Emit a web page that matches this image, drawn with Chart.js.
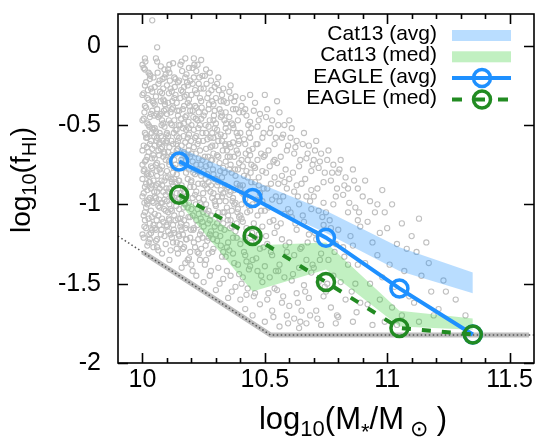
<!DOCTYPE html>
<html>
<head>
<meta charset="utf-8">
<script src="https://cdn.jsdelivr.net/npm/chart.js@4.4.0/dist/chart.umd.min.js"></script>
<style>
  html, body { margin: 0; padding: 0; background: #fff; }
  canvas { display: block; }
</style>
</head>
<body>
<canvas id="grafik" width="546" height="441"></canvas>
<script>
// bins of stellar mass, log10(M*/Msun)
const massBins = [10.15, 10.45, 10.75, 11.05, 11.35];

// EAGLE
const eagleAvg = [-0.73, -0.96, -1.21, -1.53, -1.82];
const eagleMed = [-0.94, -1.20, -1.49, -1.78, -1.82];

// Catinella et al. 2013 bands
const cat13AvgHi = [-0.64, -0.85, -1.04, -1.27, -1.43];
const cat13AvgLo = [-0.76, -0.97, -1.18, -1.42, -1.56];
const cat13MedHi = [-0.94, -1.26, -1.24, -1.67, -1.72];
const cat13MedLo = [-0.99, -1.55, -1.41, -1.77, -1.79];

// detection limit (dotted) and the pile of galaxies sitting on it
const limitX = [9.9, 10.524, 11.6];
const limitY = [-1.2, -1.824, -1.824];
const floorX = [10.0, 10.524, 11.58];
const floorY = [-1.3, -1.824, -1.824];

const seriesNames = ["Cat13 (avg)", "Cat13 (med)", "EAGLE (avg)", "EAGLE (med)"];

const xTickLabels = [10, 10.5, 11, 11.5];
const yTickLabels = [0, -0.5, -1, -1.5, -2];

// individual EAGLE galaxies (grey cloud)
const galaxies = [
  [10.04,0.16],[10.06,-0.01],[10.01,-0.08],
  [10.00,-0.12],[10.01,-0.25],[10.03,-0.18],[10.02,-0.33],[10.04,-0.41],[10.00,-0.47],[10.01,-0.55],[10.03,-0.62],[10.02,-0.70],[10.04,-0.77],
  [10.00,-0.84],[10.02,-0.91],[10.04,-0.98],[10.01,-1.05],[10.03,-1.12],[10.00,-1.19],[10.02,-1.26],[10.04,-0.52],[10.01,-0.38],[10.03,-0.86],
  [10.00,-0.66],[10.02,-1.00],[10.04,-0.29],[10.01,-0.73],[10.03,-0.45],[10.00,-0.95],[10.02,-0.58],[10.04,-1.16],[10.01,-0.89],[10.03,-0.21],
  [10.00,-0.31],[10.02,-0.80],[10.04,-0.65],[10.01,-1.10],[10.03,-0.96],[10.00,-0.75],[10.02,-0.49],[10.04,-0.88],[10.01,-0.15],[10.03,-1.22],
  [10.06,-0.10],[10.07,-0.22],[10.09,-0.15],[10.08,-0.30],[10.05,-0.37],[10.07,-0.44],[10.09,-0.51],[10.06,-0.58],[10.08,-0.64],[10.05,-0.71],
  [10.07,-0.78],[10.09,-0.85],[10.06,-0.92],[10.08,-0.99],[10.05,-1.06],[10.07,-1.13],[10.09,-1.20],[10.06,-1.27],[10.08,-1.31],[10.05,-0.26],
  [10.07,-0.55],[10.09,-0.68],[10.06,-0.82],[10.08,-0.47],[10.05,-0.95],[10.07,-1.02],[10.09,-0.35],[10.06,-0.74],[10.08,-0.88],[10.05,-1.15],
  [10.07,-0.61],[10.09,-0.97],[10.06,-0.40],[10.08,-1.09],[10.05,-0.52],[10.07,-0.90],[10.09,-0.20],[10.06,-1.22],[10.08,-0.76],[10.05,-0.63],
  [10.11,-0.12],[10.13,-0.20],[10.12,-0.29],[10.14,-0.36],[10.10,-0.43],[10.12,-0.50],[10.14,-0.57],[10.11,-0.64],[10.13,-0.72],[10.10,-0.79],
  [10.12,-0.86],[10.14,-0.93],[10.11,-1.00],[10.13,-1.07],[10.10,-1.14],[10.12,-1.21],[10.14,-1.28],[10.11,-1.35],[10.13,-0.47],[10.10,-0.60],
  [10.12,-0.69],[10.14,-0.81],[10.11,-0.90],[10.13,-0.33],[10.10,-0.98],[10.12,-1.04],[10.14,-0.53],[10.11,-0.75],[10.13,-1.18],[10.10,-0.25],
  [10.12,-0.40],[10.14,-0.66],[10.11,-1.10],[10.13,-0.84],[10.10,-0.55],[10.12,-0.95],[10.14,-1.24],[10.11,-0.17],
  [10.16,-0.10],[10.18,-0.18],[10.17,-0.26],[10.19,-0.34],[10.15,-0.41],[10.17,-0.49],[10.19,-0.56],[10.16,-0.63],[10.18,-0.70],[10.15,-0.85],
  [10.17,-0.92],[10.19,-0.99],[10.16,-1.06],[10.18,-1.13],[10.15,-1.20],[10.17,-1.27],[10.19,-1.34],[10.16,-1.40],[10.18,-0.44],[10.15,-0.58],
  [10.17,-0.67],[10.19,-0.78],[10.16,-0.88],[10.18,-0.31],[10.15,-1.03],[10.17,-1.10],[10.19,-0.52],[10.16,-0.74],[10.18,-1.22],[10.15,-0.22],
  [10.17,-0.38],[10.19,-0.63],[10.16,-1.16],[10.18,-0.95],[10.15,-0.96],[10.19,-0.14],
  [10.21,-0.08],[10.22,-0.16],[10.24,-0.09],[10.23,-0.24],[10.20,-0.31],[10.22,-0.39],[10.24,-0.46],[10.21,-0.53],[10.23,-0.60],[10.20,-0.68],
  [10.22,-0.75],[10.24,-0.82],[10.21,-0.89],[10.23,-0.96],[10.20,-1.03],[10.22,-1.10],[10.24,-1.17],[10.21,-1.24],[10.23,-1.31],[10.20,-1.38],
  [10.22,-1.45],[10.24,-0.35],[10.21,-0.64],[10.23,-0.71],[10.20,-0.50],[10.22,-0.92],[10.24,-1.00],[10.21,-1.15],[10.23,-0.42],[10.20,-0.85],
  [10.22,-0.57],[10.24,-1.28],[10.21,-0.20],[10.23,-1.06],
  [10.26,-0.15],[10.28,-0.22],[10.27,-0.30],[10.29,-0.37],[10.25,-0.44],[10.27,-0.51],[10.29,-0.58],[10.26,-0.65],[10.28,-0.72],[10.25,-0.79],
  [10.27,-0.86],[10.29,-0.93],[10.26,-1.00],[10.28,-1.07],[10.25,-1.14],[10.27,-1.21],[10.29,-1.28],[10.26,-1.35],[10.28,-1.42],[10.25,-1.49],
  [10.27,-0.40],[10.29,-0.68],[10.26,-0.55],[10.28,-0.88],[10.25,-0.97],[10.27,-1.04],[10.29,-0.47],[10.26,-0.76],[10.28,-1.17],[10.25,-0.27],
  [10.27,-1.31],[10.29,-0.81],
  [10.31,-0.20],[10.33,-0.27],[10.32,-0.35],[10.34,-0.42],[10.30,-0.49],[10.32,-0.56],[10.34,-0.63],[10.31,-0.70],[10.33,-0.77],[10.30,-0.84],
  [10.32,-0.91],[10.34,-0.98],[10.31,-1.05],[10.33,-1.12],[10.30,-1.19],[10.32,-1.26],[10.34,-1.33],[10.31,-1.40],[10.33,-1.47],[10.30,-1.54],
  [10.32,-0.45],[10.34,-0.73],[10.31,-0.60],[10.33,-0.93],[10.30,-1.01],[10.32,-1.15],[10.34,-0.52],[10.31,-0.86],[10.33,-1.30],[10.30,-0.33],
  [10.36,-0.25],[10.38,-0.32],[10.37,-0.40],[10.39,-0.47],[10.35,-0.54],[10.37,-0.61],[10.39,-0.68],[10.36,-0.75],[10.38,-0.82],[10.35,-0.89],
  [10.37,-0.96],[10.39,-1.03],[10.36,-1.10],[10.38,-1.17],[10.35,-1.24],[10.37,-1.31],[10.39,-1.38],[10.36,-1.45],[10.38,-1.52],[10.35,-1.59],
  [10.37,-0.50],[10.39,-0.78],[10.36,-0.64],[10.38,-0.99],[10.35,-1.07],[10.37,-1.21],[10.39,-0.57],[10.36,-0.92],
  [10.41,-0.33],[10.44,-0.31],[10.42,-0.40],[10.44,-0.48],[10.40,-0.55],[10.42,-0.62],[10.44,-0.69],[10.41,-0.76],[10.43,-0.83],[10.40,-0.90],
  [10.42,-0.97],[10.44,-1.04],[10.41,-1.11],[10.43,-1.18],[10.40,-1.25],[10.42,-1.32],[10.44,-1.39],[10.41,-1.46],[10.43,-1.53],[10.40,-1.60],
  [10.42,-1.66],[10.44,-0.58],[10.41,-0.88],[10.43,-0.72],[10.40,-1.07],[10.42,-1.22],
  [10.46,-0.36],[10.48,-0.43],[10.47,-0.51],[10.49,-0.58],[10.45,-0.65],[10.47,-0.72],[10.49,-0.79],[10.46,-0.86],[10.48,-0.93],[10.45,-1.00],
  [10.47,-1.07],[10.49,-1.14],[10.46,-1.21],[10.48,-1.28],[10.45,-1.35],[10.47,-1.42],[10.49,-1.49],[10.46,-1.56],[10.48,-1.63],[10.45,-1.70],
  [10.50,-0.31],[10.47,-0.62],[10.49,-0.98],[10.46,-0.77],
  [10.51,-0.40],[10.53,-0.47],[10.55,-0.35],[10.52,-0.55],[10.54,-0.62],[10.50,-0.69],[10.52,-0.76],[10.54,-0.83],[10.51,-0.90],[10.53,-0.97],
  [10.50,-1.04],[10.52,-1.11],[10.54,-1.18],[10.51,-1.25],[10.53,-1.32],[10.50,-1.39],[10.52,-1.46],[10.54,-1.53],[10.51,-1.60],[10.53,-1.67],
  [10.50,-1.74],[10.54,-0.72],
  [10.56,-0.42],[10.58,-0.50],[10.57,-0.58],[10.59,-0.66],[10.55,-0.74],[10.57,-0.82],[10.59,-0.90],[10.56,-0.98],[10.58,-1.06],[10.55,-1.14],
  [10.57,-1.22],[10.59,-1.30],[10.56,-1.38],[10.58,-1.46],[10.55,-1.54],[10.57,-1.62],[10.59,-1.70],[10.56,-1.77],[10.58,-0.86],[10.60,-0.47],
  [10.61,-0.52],[10.63,-0.60],[10.62,-0.68],[10.64,-0.76],[10.60,-0.84],[10.62,-0.92],[10.64,-1.00],[10.61,-1.08],[10.63,-1.16],[10.60,-1.24],
  [10.62,-1.32],[10.64,-1.40],[10.61,-1.48],[10.63,-1.56],[10.60,-1.64],[10.62,-1.72],[10.64,-1.78],[10.63,-0.88],
  [10.66,-0.55],[10.68,-0.63],[10.67,-0.71],[10.69,-0.79],[10.65,-0.87],[10.67,-0.95],[10.69,-1.03],[10.66,-1.11],[10.68,-1.19],[10.65,-1.27],
  [10.67,-1.35],[10.69,-1.43],[10.66,-1.51],[10.68,-1.59],[10.65,-1.67],[10.67,-1.75],[10.69,-0.91],
  [10.71,-0.60],[10.73,-0.68],[10.72,-0.77],[10.74,-0.86],[10.70,-0.95],[10.72,-1.04],[10.74,-1.13],[10.71,-1.22],[10.73,-1.31],[10.70,-1.40],
  [10.72,-1.49],[10.74,-1.58],[10.71,-1.67],[10.73,-1.76],[10.74,-0.99],[10.70,-0.72],
  [10.76,-0.66],[10.78,-0.75],[10.77,-0.85],[10.79,-0.95],[10.75,-1.05],[10.77,-1.15],[10.79,-1.25],[10.76,-1.35],[10.78,-1.45],[10.75,-1.55],
  [10.77,-1.65],[10.79,-1.75],[10.78,-1.00],[10.80,-0.80],
  [10.81,-0.72],[10.83,-0.83],[10.82,-0.94],[10.84,-1.05],[10.80,-1.16],[10.82,-1.27],[10.84,-1.38],[10.81,-1.49],[10.83,-1.60],[10.80,-1.71],
  [10.84,-0.90],[10.85,-1.20],
  [10.86,-0.78],[10.88,-0.90],[10.87,-1.02],[10.89,-1.14],[10.86,-1.26],[10.88,-1.38],[10.87,-1.50],[10.89,-1.62],[10.86,-1.74],[10.90,-0.95],
  [10.88,-1.10],
  [10.91,-0.85],[10.93,-0.98],[10.92,-1.11],[10.94,-1.24],[10.91,-1.37],[10.93,-1.50],[10.92,-1.63],[10.94,-1.76],[10.95,-1.05],
  [10.98,-0.91],[10.96,-1.00],[10.99,-1.05],[10.97,-1.18],[10.96,-1.32],[10.98,-1.46],[10.97,-1.60],[10.99,-1.74],
  [11.00,-1.15],[11.02,-1.00],[11.04,-1.25],[11.01,-1.38],[11.03,-1.52],[11.02,-1.65],[11.04,-1.76],
  [11.06,-1.12],[11.08,-1.28],[11.07,-1.42],[11.09,-1.58],[11.06,-1.70],[11.10,-1.20],
  [11.13,-1.09],[11.12,-1.30],[11.14,-1.45],[11.11,-1.62],[11.13,-1.74],
  [11.17,-1.37],[11.16,-1.24],[11.18,-1.55],[11.19,-1.70],
  [11.23,-1.48],[11.24,-1.55],[11.21,-1.66],
  [11.28,-1.60],[11.32,-1.70],
  // second pass over the dense part of the cloud
  [10.005,-0.14],[10.025,-0.17],[10.045,-0.20],[10.015,-0.23],[10.035,-0.27],[10.005,-0.30],[10.025,-0.34],[10.045,-0.36],[10.015,-0.39],[10.035,-0.43],
  [10.005,-0.46],[10.025,-0.50],[10.045,-0.53],[10.015,-0.56],[10.035,-0.60],[10.005,-0.63],[10.025,-0.67],[10.045,-0.69],[10.015,-0.72],[10.035,-0.76],
  [10.005,-0.79],[10.025,-0.82],[10.045,-0.85],[10.015,-0.87],[10.035,-0.90],[10.005,-0.93],[10.025,-0.97],[10.045,-0.99],[10.015,-1.02],[10.035,-1.04],
  [10.005,-1.07],[10.025,-1.09],[10.045,-1.13],[10.015,-1.15],[10.035,-1.18],[10.005,-1.21],[10.025,-1.24],[10.045,-1.27],[10.015,-0.58],[10.035,-0.81],
  [10.055,-0.08],[10.075,-0.13],[10.095,-0.18],[10.065,-0.24],[10.085,-0.27],[10.055,-0.32],[10.075,-0.35],[10.095,-0.40],[10.065,-0.45],[10.085,-0.49],
  [10.055,-0.54],[10.075,-0.57],[10.095,-0.61],[10.065,-0.66],[10.085,-0.70],[10.055,-0.75],[10.075,-0.80],[10.095,-0.83],[10.065,-0.87],[10.085,-0.92],
  [10.055,-0.96],[10.075,-0.99],[10.095,-1.04],[10.065,-1.07],[10.085,-1.11],[10.055,-1.16],[10.075,-1.19],[10.095,-1.25],[10.065,-1.29],[10.085,-0.60],
  [10.055,-0.88],[10.075,-0.43],[10.095,-0.72],[10.065,-1.01],[10.085,-0.34],[10.055,-1.23],[10.075,-0.65],[10.095,-0.94],
  [10.105,-0.15],[10.125,-0.11],[10.145,-0.23],[10.115,-0.27],[10.135,-0.31],[10.105,-0.36],[10.125,-0.39],[10.145,-0.44],[10.115,-0.49],[10.135,-0.53],
  [10.105,-0.57],[10.125,-0.62],[10.145,-0.65],[10.115,-0.70],[10.135,-0.75],[10.105,-0.83],[10.125,-0.88],[10.145,-0.97],[10.115,-1.03],[10.135,-1.10],
  [10.105,-1.17],[10.125,-1.24],[10.145,-1.31],[10.115,-1.19],[10.135,-0.98],[10.105,-1.05],[10.125,-0.80],[10.145,-0.60],[10.115,-0.42],[10.135,-0.21],
  [10.105,-0.67],[10.125,-1.13],[10.145,-1.09],[10.115,-1.29],[10.135,-0.86],[10.105,-0.92],
  [10.155,-0.12],[10.175,-0.08],[10.195,-0.22],[10.165,-0.29],[10.185,-0.36],[10.155,-0.33],[10.175,-0.45],[10.195,-0.41],[10.165,-0.52],[10.185,-0.58],
  [10.155,-0.50],[10.175,-0.61],[10.195,-0.70],[10.165,-0.97],[10.185,-1.02],[10.155,-1.09],[10.175,-1.15],[10.195,-1.21],[10.165,-1.28],[10.185,-1.35],
  [10.155,-1.25],[10.175,-1.37],[10.195,-1.08],[10.165,-0.90],[10.185,-0.84],[10.155,-0.93],[10.175,-1.00],[10.195,-0.89],[10.165,-0.40],[10.185,-0.25],
  [10.155,-1.14],[10.175,-0.20],[10.195,-1.30],[10.165,-1.19],
  [10.205,-0.14],[10.225,-0.12],[10.245,-0.19],[10.215,-0.28],[10.235,-0.33],[10.205,-0.41],[10.225,-0.47],[10.245,-0.55],[10.215,-0.58],[10.235,-0.66],
  [10.205,-0.73],[10.225,-0.79],[10.245,-0.87],[10.215,-0.94],[10.235,-0.99],[10.205,-1.07],[10.225,-1.13],[10.245,-1.21],[10.215,-1.27],[10.235,-1.35],
  [10.205,-1.42],[10.225,-0.62],[10.245,-0.72],[10.215,-0.81],[10.235,-0.50],[10.205,-0.96],[10.225,-1.03],[10.245,-1.11],[10.215,-0.38],[10.235,-1.19],
  [10.205,-0.24],[10.225,-1.30],
  [10.255,-0.19],[10.275,-0.17],[10.295,-0.26],[10.265,-0.33],[10.285,-0.35],[10.255,-0.42],[10.275,-0.47],[10.295,-0.52],[10.265,-0.59],[10.285,-0.63],
  [10.255,-0.70],[10.275,-0.75],[10.295,-0.84],[10.265,-0.90],[10.285,-0.96],[10.255,-1.03],[10.275,-1.10],[10.295,-1.14],[10.265,-1.23],[10.285,-1.30],
  [10.255,-1.38],[10.275,-1.45],[10.295,-0.98],[10.265,-0.81],[10.285,-0.55],[10.255,-0.88],[10.275,-1.19],[10.295,-0.41],[10.265,-1.06],[10.285,-0.72],
  [10.305,-0.24],[10.325,-0.31],[10.345,-0.36],[10.315,-0.40],[10.335,-0.47],[10.305,-0.53],[10.325,-0.60],[10.345,-0.66],[10.315,-0.74],[10.335,-0.80],
  [10.305,-0.88],[10.325,-0.95],[10.345,-1.02],[10.315,-1.09],[10.335,-1.16],[10.305,-1.23],[10.325,-1.33],[10.345,-1.42],[10.315,-1.50],[10.335,-0.57],
  [10.305,-0.69],[10.325,-0.83],[10.345,-0.90],[10.315,-0.98],[10.335,-1.05],[10.305,-1.12],[10.325,-0.44],[10.345,-1.27],
  [10.355,-0.29],[10.375,-0.35],[10.395,-0.42],[10.365,-0.49],[10.385,-0.55],[10.355,-0.62],[10.375,-0.70],[10.395,-0.74],[10.365,-0.80],[10.385,-0.87],
  [10.355,-0.94],[10.375,-1.00],[10.395,-1.08],[10.365,-1.14],[10.385,-1.21],[10.355,-1.29],[10.375,-1.37],[10.395,-1.44],[10.365,-1.55],[10.385,-0.66],
  [10.355,-0.78],[10.375,-0.91],[10.395,-0.60],[10.365,-1.04],[10.385,-1.12],[10.355,-0.45],
  [10.405,-0.38],[10.425,-0.44],[10.445,-0.52],[10.415,-0.59],[10.435,-0.66],[10.405,-0.72],[10.425,-0.79],[10.445,-0.86],[10.415,-0.94],[10.435,-1.01],
  [10.405,-1.09],[10.425,-1.15],[10.445,-1.24],[10.415,-1.30],[10.435,-1.41],[10.405,-1.50],[10.425,-1.57],[10.445,-0.75],[10.415,-0.82],[10.435,-0.55],
  [10.405,-1.00],[10.425,-1.36],
  [10.455,-0.41],[10.475,-0.47],[10.495,-0.55],[10.465,-0.62],[10.485,-0.68],[10.455,-0.76],[10.475,-0.83],[10.495,-0.90],[10.465,-0.97],[10.485,-1.04],
  [10.455,-1.12],[10.475,-1.19],[10.495,-1.27],[10.465,-1.34],[10.485,-1.45],[10.455,-1.58],[10.475,-0.88],[10.495,-0.70],
  [10.505,-0.45],[10.525,-0.52],[10.545,-0.58],[10.515,-0.66],[10.535,-0.73],[10.505,-0.80],[10.525,-0.87],[10.545,-0.95],[10.515,-1.02],[10.535,-1.10],
  [10.505,-1.20],[10.525,-1.30],[10.545,-1.42],[10.515,-1.56],[10.535,-1.71],
  [10.555,-0.50],[10.575,-0.56],[10.595,-0.63],[10.565,-0.70],[10.585,-0.78],[10.555,-0.87],[10.575,-0.95],[10.595,-1.03],[10.565,-1.12],[10.585,-1.26],
  [10.555,-1.42],[10.575,-1.58],[10.595,-1.75],
  [10.605,-0.58],[10.625,-0.64],[10.645,-0.72],[10.615,-0.80],[10.635,-0.95],[10.605,-1.05],[10.625,-1.12],[10.645,-1.28],[10.615,-1.44],[10.635,-1.62],
  [10.645,-1.74],
  [10.655,-0.62],[10.675,-0.68],[10.695,-0.75],[10.665,-0.84],[10.685,-0.98],[10.655,-1.07],[10.675,-1.24],[10.695,-1.38],[10.665,-1.55],[10.685,-1.70],
  [10.705,-0.66],[10.725,-0.73],[10.745,-0.80],[10.715,-0.90],[10.735,-1.08],[10.705,-1.18],[10.725,-1.35],[10.745,-1.52],[10.715,-1.72],
  [10.755,-0.72],[10.775,-0.80],[10.795,-0.90],[10.765,-1.10],[10.785,-1.30],[10.755,-1.50],[10.795,-1.70],
  [10.805,-0.78],[10.825,-0.88],[10.845,-0.99],[10.865,-0.85],[10.885,-1.05],[10.825,-1.33],[10.855,-1.55],[10.875,-1.68],
  // third pass, densest corner
  [10.012,-0.10],[10.032,-0.19],[10.022,-0.28],[10.042,-0.35],[10.008,-0.42],[10.028,-0.51],[10.048,-0.57],[10.018,-0.64],[10.038,-0.71],[10.008,-0.78],
  [10.028,-0.86],[10.048,-0.92],[10.018,-0.98],[10.038,-1.08],[10.008,-1.14],[10.028,-1.19],[10.048,-0.44],[10.018,-0.81],[10.038,-0.55],[10.008,-0.99],
  [10.062,-0.17],[10.082,-0.21],[10.072,-0.29],[10.092,-0.37],[10.058,-0.43],[10.078,-0.50],[10.098,-0.56],[10.068,-0.62],[10.088,-0.67],[10.058,-0.79],
  [10.078,-0.85],[10.098,-0.90],[10.068,-0.97],[10.088,-1.03],[10.058,-1.10],[10.078,-1.16],[10.098,-1.13],[10.068,-0.69],[10.088,-0.41],[10.058,-0.60],
  [10.112,-0.22],[10.132,-0.26],[10.122,-0.35],[10.142,-0.41],[10.108,-0.47],[10.128,-0.55],[10.148,-0.50],[10.118,-0.60],[10.138,-0.68],[10.108,-0.73],
  [10.128,-0.77],[10.148,-0.85],[10.118,-0.95],[10.138,-1.01],[10.108,-1.09],[10.128,-1.16],[10.148,-1.19],[10.118,-0.84],[10.138,-0.62],[10.108,-0.30],
  [10.162,-0.16],[10.182,-0.23],[10.172,-0.32],[10.192,-0.38],[10.158,-0.46],[10.178,-0.53],[10.198,-0.60],[10.168,-0.57],[10.188,-0.66],[10.158,-0.72],
  [10.178,-0.80],[10.198,-0.86],[10.168,-1.02],[10.188,-1.08],[10.158,-1.12],[10.178,-1.22],[10.198,-1.16],[10.168,-0.68],[10.188,-0.48],[10.158,-0.28],
  [10.212,-0.12],[10.232,-0.20],[10.222,-0.30],[10.242,-0.39],[10.208,-0.45],[10.228,-0.52],[10.248,-0.60],[10.218,-0.68],[10.238,-0.75],[10.208,-0.80],
  [10.228,-0.87],[10.248,-0.93],[10.218,-1.00],[10.238,-1.09],[10.208,-1.16],[10.228,-1.22],[10.248,-1.05],[10.218,-0.46],[10.238,-0.27],
  [10.262,-0.24],[10.282,-0.28],[10.272,-0.37],[10.292,-0.44],[10.258,-0.50],[10.278,-0.58],[10.298,-0.63],[10.268,-0.70],[10.288,-0.78],[10.258,-0.84],
  [10.278,-0.92],[10.298,-1.00],[10.268,-1.12],[10.288,-1.22],[10.258,-1.26],[10.278,-0.64],
  [10.312,-0.28],[10.332,-0.35],[10.322,-0.42],[10.342,-0.49],[10.308,-0.57],[10.328,-0.66],[10.348,-0.70],[10.318,-0.79],[10.338,-0.88],[10.308,-0.95],
  [10.328,-1.05],[10.348,-1.10],[10.318,-1.20],[10.338,-0.62],
  [10.362,-0.33],[10.382,-0.40],[10.372,-0.52],[10.392,-0.62],[10.358,-0.70],[10.378,-0.78],[10.398,-0.88],[10.368,-0.98],[10.388,-1.05],[10.358,-1.15],
  [10.412,-0.42],[10.432,-0.50],[10.422,-0.68],[10.442,-0.80],[10.408,-0.93],[10.428,-1.05],[10.448,-1.18]
];

const FONT = "'Liberation Sans', Arial, Helvetica, sans-serif";
const blue = "rgb(30,144,255)";
const green = "rgb(34,139,34)";
const blueBand = "rgba(30,144,255,0.31)";
const greenBand = "rgba(50,205,50,0.30)";

const pts = (xs, ys) => xs.map((x, i) => ({ x, y: ys[i] }));

const bandEdge = (ys, fill, color) => ({
  type: "line",
  data: pts(massBins, ys),
  borderWidth: 0,
  pointRadius: 0,
  fill: fill,
  backgroundColor: color
});

// frame, inward ticks, legend and axis titles
const decor = {
  id: "decor",
  afterDraw(chart) {
    const c = chart.ctx;
    const a = chart.chartArea;
    const sx = chart.scales.x, sy = chart.scales.y;

    c.save();
    c.strokeStyle = "#000";
    c.lineWidth = 1.6;
    c.strokeRect(a.left, a.top, a.right - a.left, a.bottom - a.top);

    c.beginPath();
    for (let v = 10.1; v < 11.55; v += 0.1) {
      const px = Math.round(sx.getPixelForValue(v)) + 0.5;
      c.moveTo(px, a.bottom); c.lineTo(px, a.bottom - 5);
      c.moveTo(px, a.top); c.lineTo(px, a.top + 5);
    }
    xTickLabels.forEach(v => {
      const px = Math.round(sx.getPixelForValue(v)) + 0.5;
      c.moveTo(px, a.bottom); c.lineTo(px, a.bottom - 10);
      c.moveTo(px, a.top); c.lineTo(px, a.top + 10);
    });
    yTickLabels.forEach(v => {
      const py = Math.round(sy.getPixelForValue(v)) + 0.5;
      c.moveTo(a.left, py); c.lineTo(a.left + 10, py);
      c.moveTo(a.right, py); c.lineTo(a.right - 10, py);
    });
    c.stroke();

    // legend
    const styles = [
      { kind: "band", color: blueBand },
      { kind: "band", color: greenBand },
      { kind: "line", color: blue, dash: [] },
      { kind: "line", color: green, dash: [10, 13] }
    ];
    c.font = "21px " + FONT;
    c.textAlign = "right";
    c.textBaseline = "alphabetic";
    seriesNames.forEach((name, i) => {
      const yc = 35.5 + i * 21.3;
      const st = styles[i];
      c.fillStyle = "#000";
      c.fillText(name, 437, yc + 4.5);
      if (st.kind === "band") {
        c.fillStyle = st.color;
        c.fillRect(452, yc - 5.5, 59, 11);
      } else {
        c.strokeStyle = st.color;
        c.lineWidth = 4;
        c.setLineDash(st.dash);
        c.beginPath(); c.moveTo(452, yc); c.lineTo(511, yc); c.stroke();
        c.setLineDash([]);
        c.lineWidth = 3.5;
        c.beginPath(); c.arc(482, yc, 8.5, 0, Math.PI * 2); c.stroke();
      }
    });

    // axis titles with subscripts
    const drawParts = (parts, x0, y0) => {
      let x = x0;
      parts.forEach(([t, size, dy]) => {
        c.font = size + "px " + FONT;
        c.fillText(t, x, y0 + dy);
        x += c.measureText(t).width;
      });
    };
    const widthOf = parts => parts.reduce((w, [t, size]) => {
      c.font = size + "px " + FONT;
      return w + c.measureText(t).width;
    }, 0);

    c.fillStyle = "#000";
    c.textAlign = "left";
    const yTitle = [["log", 28, 0], ["10", 20, 6], ["(f", 28, 0], ["HI", 20, 6], [")", 28, 0]];
    c.save();
    c.translate(30, 180);
    c.rotate(-Math.PI / 2);
    drawParts(yTitle, -widthOf(yTitle) / 2, 0);
    c.restore();

    const xTitle = [["log", 31, 0], ["10", 22, 7], ["(M", 31, 0], ["*", 22, 10], ["/M", 31, 0], [" \u2299", 22, 7], [" )", 31, 0]];
    drawParts(xTitle, 353 - widthOf(xTitle) / 2, 429);
    c.restore();
  }
};

const ctx = document.getElementById("grafik").getContext("2d");

new Chart(ctx, {
  type: "scatter",
  data: {
    datasets: [
      {
        type: "line",
        data: pts(massBins, eagleMed),
        borderColor: green,
        borderWidth: 4,
        borderDash: [9, 11],
        pointRadius: 8.5,
        pointBorderWidth: 3.5,
        pointBorderColor: green,
        pointBackgroundColor: "rgba(0,0,0,0)",
        fill: false
      },
      {
        type: "line",
        data: pts(massBins, eagleAvg),
        borderColor: blue,
        borderWidth: 4,
        pointRadius: 8.5,
        pointBorderWidth: 3.5,
        pointBorderColor: blue,
        pointBackgroundColor: "rgba(0,0,0,0)",
        fill: false
      },
      bandEdge(cat13MedHi, "+1", greenBand),
      bandEdge(cat13MedLo, false, greenBand),
      bandEdge(cat13AvgHi, "+1", blueBand),
      bandEdge(cat13AvgLo, false, blueBand),
      {
        type: "line",
        data: pts(limitX, limitY),
        borderColor: "#555",
        borderWidth: 1.5,
        borderDash: [1.5, 2.5],
        pointRadius: 0,
        fill: false
      },
      {
        type: "line",
        data: pts(floorX, floorY),
        borderColor: "rgb(190,190,190)",
        borderWidth: 5,
        pointRadius: 0,
        fill: false
      },
      {
        type: "scatter",
        data: galaxies.map(([x, y]) => ({ x, y })),
        pointRadius: 2.6,
        borderWidth: 1.1,
        borderColor: "rgb(192,192,192)",
        backgroundColor: "rgba(0,0,0,0)"
      }
    ]
  },
  options: {
    responsive: false,
    animation: false,
    events: [],
    layout: { padding: { top: 14, right: 9, left: 0, bottom: 0 } },
    plugins: { legend: { display: false }, tooltip: { enabled: false } },
    scales: {
      x: {
        type: "linear",
        min: 9.9,
        max: 11.6,
        grid: { display: false, drawTicks: false },
        border: { display: false },
        ticks: { color: "#000", font: { family: FONT, size: 25 }, padding: 2, maxRotation: 0, autoSkip: false, callback: v => String(v) },
        afterBuildTicks: s => { s.ticks = xTickLabels.map(v => ({ value: v })); },
        afterFit: s => { s.height = 78; s.paddingLeft = 0; s.paddingRight = 0; }
      },
      y: {
        type: "linear",
        min: -2,
        max: 0.2,
        grid: { display: false, drawTicks: false },
        border: { display: false },
        ticks: { color: "#000", font: { family: FONT, size: 25 }, padding: 17, autoSkip: false, callback: v => String(v) },
        afterBuildTicks: s => { s.ticks = yTickLabels.map(v => ({ value: v })); },
        afterFit: s => { s.width = 118; s.paddingTop = 0; s.paddingBottom = 0; }
      }
    }
  },
  plugins: [decor]
});
</script>
</body>
</html>
